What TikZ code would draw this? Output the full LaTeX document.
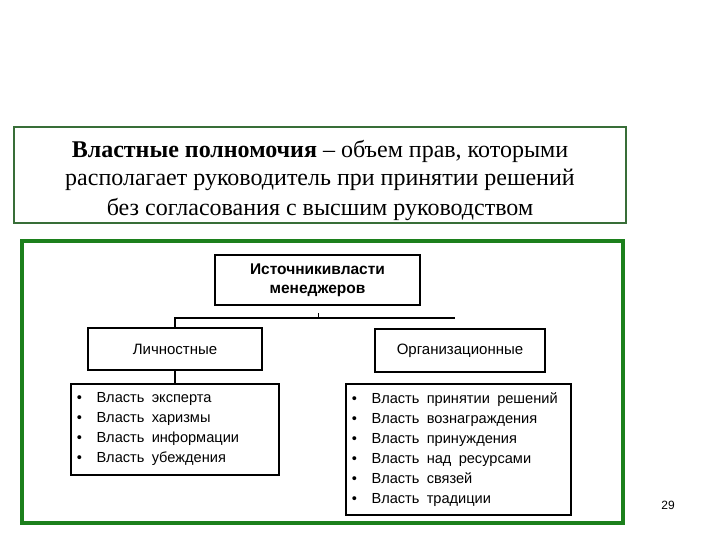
\documentclass[tikz,border=0pt]{standalone}
\usepackage{fontspec}
\setmainfont{Liberation Serif}
\setsansfont{Liberation Sans}
\definecolor{frmgreen}{RGB}{28,128,28}
\definecolor{defgreen}{RGB}{56,110,56}
\usetikzlibrary{positioning}

\begin{document}
\begin{tikzpicture}[x=1pt,y=-1pt,
  srcbox/.style={draw,line width=1.6pt,font=\sffamily\fontsize{15}{19}\selectfont,
    align=center,inner sep=0pt},
  listbox/.style={draw,line width=1.6pt,font=\sffamily\fontsize{14.6}{20}\selectfont,
    align=left,inner xsep=6pt,inner ysep=0pt,anchor=north west}
]
  \useasboundingbox (0,0) rectangle (720,540);

  % Definition
  \node[draw=defgreen,line width=1.5pt,minimum width=612pt,minimum height=96pt,
    inner sep=0pt] (defn) at (320,175) {};
  \node[align=center,inner sep=0pt,font=\fontsize{24}{29}\selectfont] (defntxt)
    at ([yshift=-5pt]defn.center) {
    \textbf{Властные полномочия} -- объем прав, которыми\\
    располагает руководитель при принятии решений\\
    без согласования с высшим руководством};

  % Green frame
  \draw[frmgreen,line width=4pt] (22,241) rectangle (623,523);

  % Sources
  \node[srcbox,minimum width=205pt,minimum height=50pt,font=\sffamily\bfseries\fontsize{15.5}{19}\selectfont]
    (src) at (317.5,280) {Источникивласти\\менеджеров};

  \node[srcbox,minimum width=174pt,minimum height=42pt] (pers) at (175,349) {Личностные};
  \node[srcbox,minimum width=170pt,minimum height=43pt] (org) at (460,350.5) {Организационные};

  % Lists
  \node[listbox,text width=196pt,minimum height=91pt] (perslist) at (70,383) {
    \textbullet\quad Власть\enspace эксперта\\
    \textbullet\quad Власть\enspace харизмы\\
    \textbullet\quad Власть\enspace информации\\
    \textbullet\quad Власть\enspace убеждения};

  \node[listbox,text width=213pt,minimum height=131pt] (orglist) at (345,383) {
    \textbullet\quad Власть\enspace принятии\enspace решений\\
    \textbullet\quad Власть\enspace вознаграждения\\
    \textbullet\quad Власть\enspace принуждения\\
    \textbullet\quad Власть\enspace над\enspace ресурсами\\
    \textbullet\quad Власть\enspace связей\\
    \textbullet\quad Власть\enspace традиции};

  % Connectors
  \coordinate (barR) at (455,318);
  \coordinate (tick) at (318,313);
  \draw[line width=1.6pt] (pers.north) -- (pers.north |- barR) -- (barR);
  \draw[line width=0.8pt] (tick) -- (tick |- barR);
  \draw[line width=1.6pt] (pers.south) -- (pers.south |- perslist.north);

  % Page number
  \node[font=\sffamily\fontsize{12}{14}\selectfont] (pnum) at (668,505) {29};
\end{tikzpicture}
\end{document}
